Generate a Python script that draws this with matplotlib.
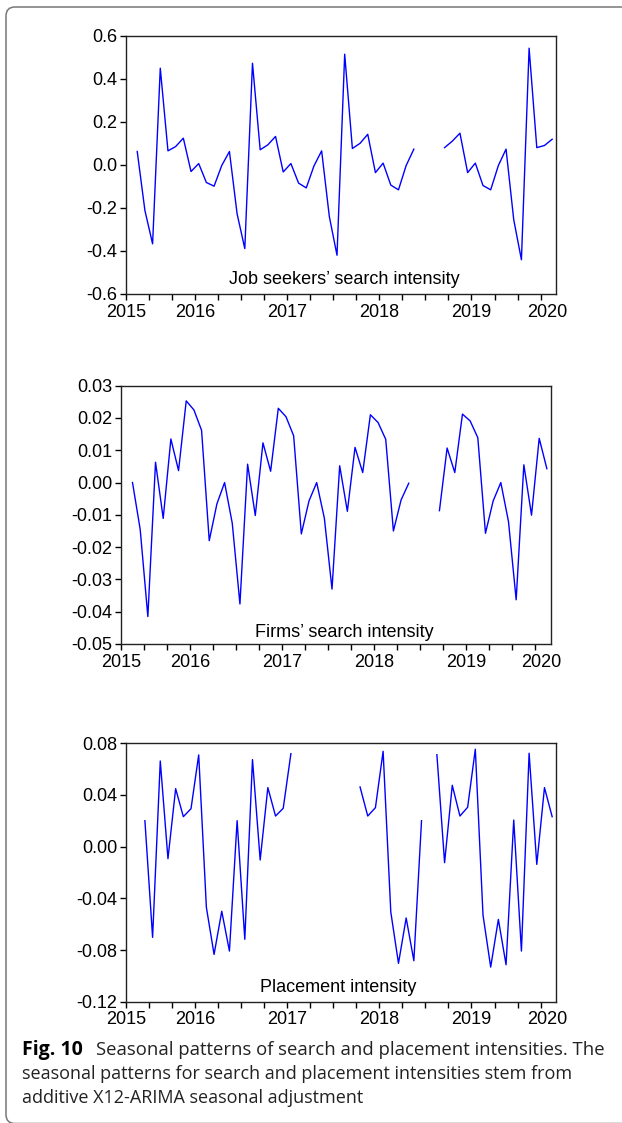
import numpy as np
import matplotlib
matplotlib.use('Agg')
import matplotlib.pyplot as plt
from matplotlib.patches import FancyBboxPatch
from matplotlib.transforms import IdentityTransform

nan = np.nan

# monthly seasonal factors, one point per month (gaps = missing)
job_seekers = [0.062, -0.212, -0.367, 0.449, 0.065, 0.085, 0.124, -0.031, 0.006, -0.082, -0.099, -0.003,
               0.062, -0.228, -0.389, 0.472, 0.070, 0.093, 0.132, -0.033, 0.006, -0.085, -0.107, -0.005,
               0.065, -0.240, -0.420, 0.514, 0.076, 0.100, 0.142, -0.036, 0.008, -0.094, -0.116, -0.003,
               0.073, nan, nan, nan, 0.080, 0.110, 0.147, -0.036, 0.008, -0.096, -0.116, -0.003,
               0.073, -0.255, -0.441, 0.542, 0.080, 0.090, 0.119]

firms = [0.0000, -0.0145, -0.0415, 0.0063, -0.0111, 0.0135, 0.0037, 0.0253, 0.0225, 0.0162, -0.0180, -0.0066,
         0.0000, -0.0126, -0.0376, 0.0057, -0.0102, 0.0123, 0.0035, 0.0230, 0.0204, 0.0145, -0.0159, -0.0057,
         0.0000, -0.0110, -0.0330, 0.0052, -0.0089, 0.0109, 0.0031, 0.0210, 0.0186, 0.0134, -0.0150, -0.0054,
         -0.0002, nan, nan, nan, -0.0087, 0.0107, 0.0031, 0.0212, 0.0191, 0.0139, -0.0157, -0.0057,
         0.0000, -0.0121, -0.0363, 0.0055, -0.0101, 0.0137, 0.0043]

placement = [nan, 0.0201, -0.0702, 0.0663, -0.0093, 0.0449, 0.0232, 0.0294, 0.0710, -0.0470, -0.0834, -0.0500,
             -0.0808, 0.0201, -0.0717, 0.0674, -0.0103, 0.0457, 0.0237, 0.0297, 0.0720, nan, nan, nan,
             nan, nan, nan, nan, nan, 0.0462, 0.0237, 0.0302, 0.0738, -0.0506, -0.0903, -0.0552,
             -0.0883, 0.0201, nan, 0.0712, -0.0124, 0.0475, 0.0237, 0.0305, 0.0754, -0.0529, -0.0932, -0.0563,
             -0.0914, 0.0206, -0.0808, 0.0723, -0.0137, 0.0457, 0.0232]

years = ['2015', '2016', '2017', '2018', '2019', '2020']
year_pos = [-1.5, 7.5, 19.5, 31.5, 43.5, 53.3]

titles = ['Job seekers\u2019 search intensity', 'Firms\u2019 search intensity', 'Placement intensity']
yticks = [np.arange(-0.6, 0.61, 0.2), np.arange(-0.05, 0.031, 0.01), np.arange(-0.12, 0.081, 0.04)]
ylims = [(-0.6, 0.6), (-0.05, 0.03), (-0.12, 0.08)]
yfmt = ['%.1f', '%.2f', '%.2f']

plt.rcParams['font.family'] = ['Liberation Sans', 'DejaVu Sans']
plt.rcParams['axes.unicode_minus'] = False

W, H = 622, 1123
fig = plt.figure(figsize=(W / 100, H / 100), dpi=100)

# axes boxes in pixels: left, top, right, bottom
boxes = [(125.7, 35.7, 556, 294), (121, 385.7, 550.7, 644), (125.7, 743.3, 556, 1001.7)]
label_y = [0.039, 0.028, 0.039]
label_x = [0.508, 0.519, 0.493]
series = [job_seekers, firms, placement]

x = np.arange(len(job_seekers))
for i in range(3):
    l, t, r, b = boxes[i]
    ax = fig.add_axes([l / W, 1 - b / H, (r - l) / W, (b - t) / H])
    ax.plot(x, series[i], color='#0000ff', lw=1.0)
    ax.set_xlim(-1.5, 54.5)
    ax.set_ylim(*ylims[i])
    ax.set_yticks(yticks[i])
    ax.set_yticklabels([yfmt[i] % v if abs(v) > 1e-9 else yfmt[i] % 0 for v in yticks[i]])
    # tick marks every quarter, year labels as minor ticks with no mark
    ax.xaxis.remove_overlapping_locs = False
    ax.set_xticks(np.arange(-1.5, 54.5, 3))
    ax.set_xticklabels([])
    ax.set_xticks(year_pos, minor=True)
    ax.set_xticklabels(years, minor=True)
    ax.tick_params(axis='x', which='major', direction='out', length=4, width=1)
    ax.tick_params(axis='x', which='minor', length=0, pad=7, labelsize=13)
    ax.tick_params(axis='y', direction='out', length=4, width=1, pad=2, labelsize=13)
    for s in ax.spines.values():
        s.set_linewidth(1.0)
        s.set_color('#222222')
    ax.text(label_x[i], label_y[i], titles[i], transform=ax.transAxes,
            ha='center', va='baseline', fontsize=13)

# caption
fig.text(22 / W, 1 - 1055 / H, 'Fig. 10', fontsize=14, fontweight='bold', family='Open Sans')
fig.text(95.7 / W, 1 - 1055 / H, 'Seasonal patterns of search and placement intensities. The',
         fontsize=13.3, family='Open Sans', color='#222222')
fig.text(22 / W, 1 - 1079 / H, 'seasonal patterns for search and placement intensities stem from',
         fontsize=13, family='Open Sans', color='#222222')
fig.text(22 / W, 1 - 1103 / H, 'additive X12-ARIMA seasonal adjustment',
         fontsize=13, family='Open Sans', color='#222222')

# rounded frame around figure and caption
frame = FancyBboxPatch((6, -0.5), 660, H - 6.5, boxstyle='round,pad=0,rounding_size=9',
                       transform=IdentityTransform(), fill=False, edgecolor='#777777', lw=1.1)
fig.patches.append(frame)

fig.savefig('out.png', dpi=100, facecolor='white')
